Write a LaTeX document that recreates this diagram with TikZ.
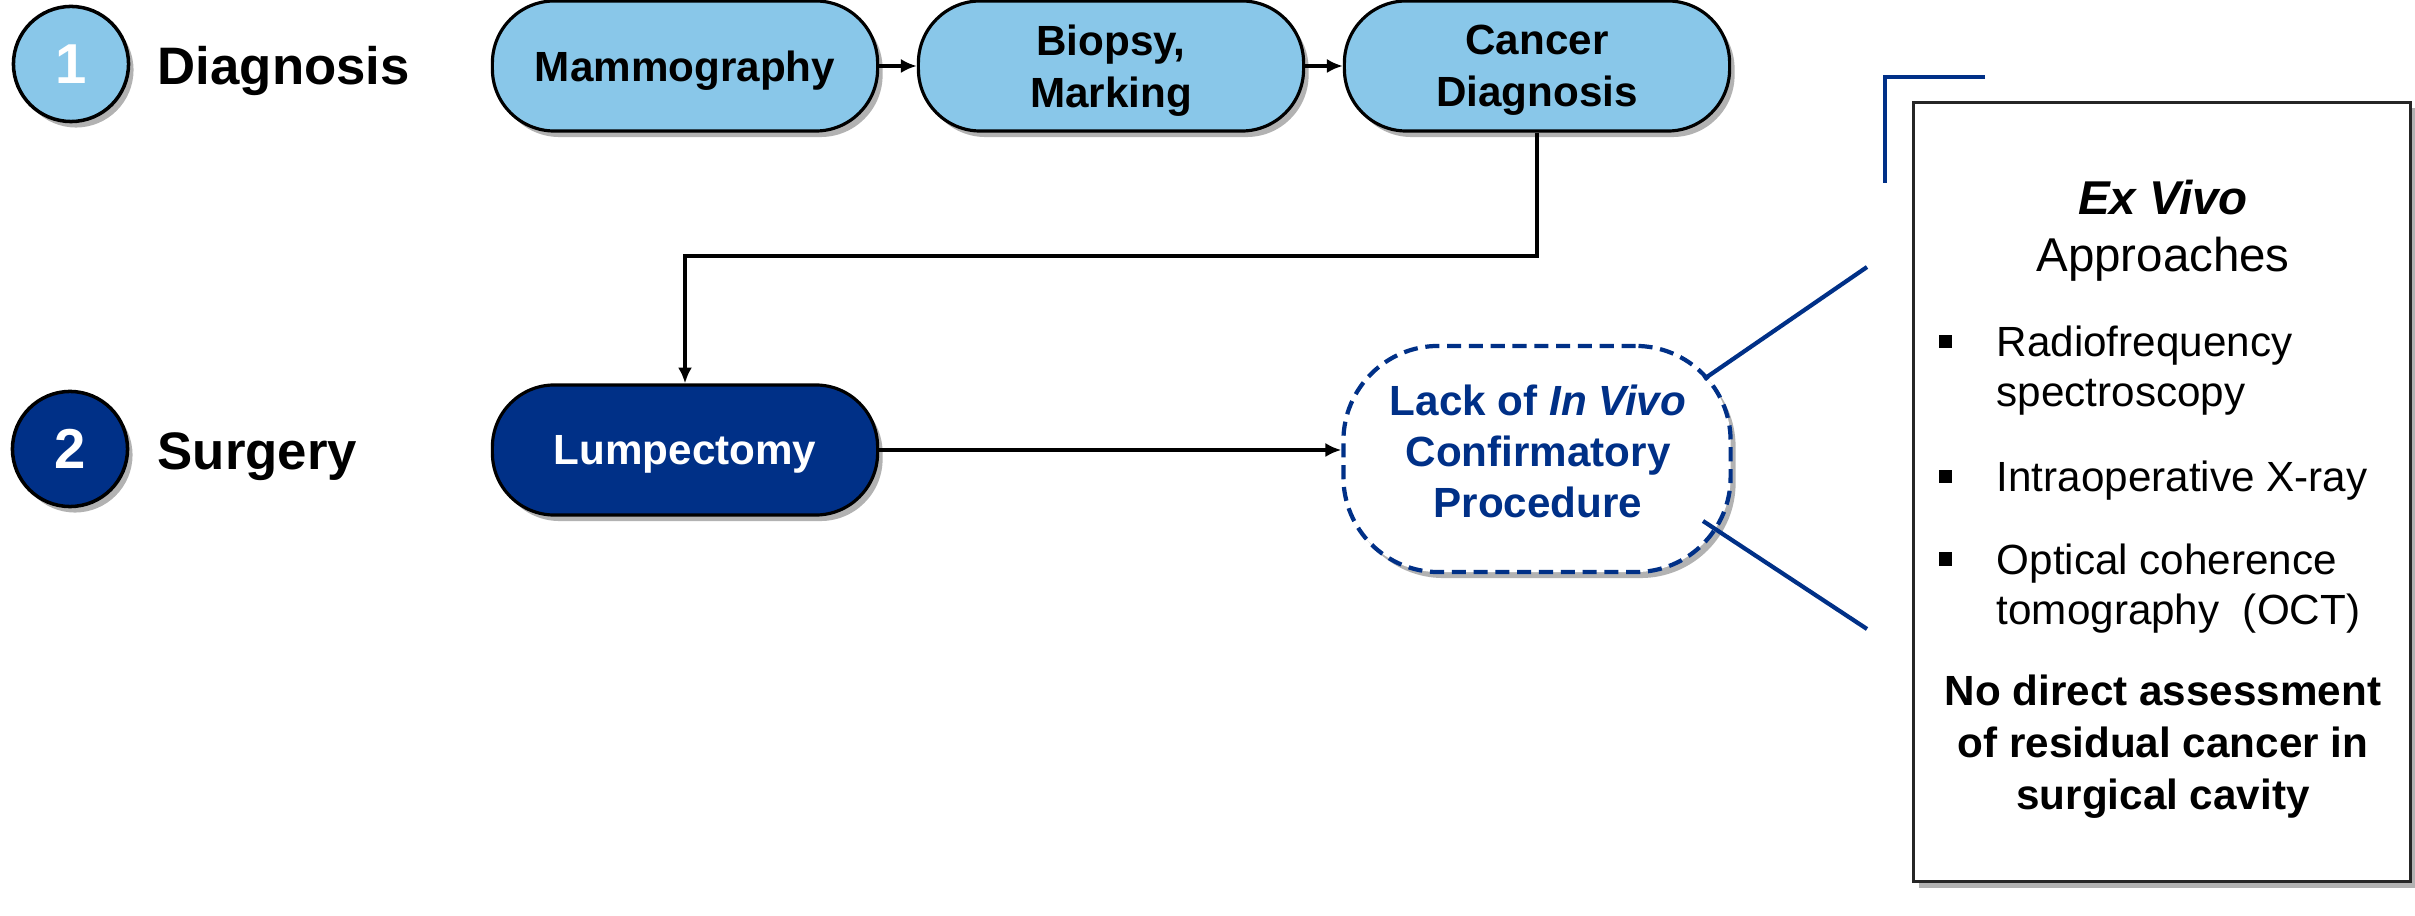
\documentclass[tikz,border=0pt]{standalone}
\usepackage{fontspec}
\setmainfont{Liberation Sans}
\usetikzlibrary{shadows,arrows.meta,calc}
\definecolor{lblue}{RGB}{137,199,233}
\definecolor{dblue}{RGB}{0,48,135}
\begin{document}
\begin{tikzpicture}[x=0.01cm,y=-0.01cm,
  shd/.style={drop shadow={shadow xshift=0.05cm, shadow yshift=-0.06cm, opacity=0.3, fill=black}},
  term/.style={draw=black, line width=0.9pt, rounded corners=0.62cm, minimum width=3.85cm, minimum height=1.30cm, inner sep=0pt, text depth=0pt, align=center, font=\fontsize{12}{14.8}\selectfont\bfseries, shd},
  lterm/.style={term, fill=lblue},
  dterm/.style={term, fill=dblue, text=white},
  numc/.style={circle, draw=black, line width=1pt, minimum size=1.15cm, inner sep=0pt, font=\fontsize{16}{16}\selectfont\bfseries, text=white, shd},
  stage/.style={anchor=base west, inner sep=0pt, font=\fontsize{15}{15}\selectfont\bfseries},
  arr/.style={-{Latex[length=4.5pt,width=4pt]}, line width=0.9pt, black},
  bl/.style={dblue, line width=1.2pt},
  ovl/.style={draw=dblue, line width=1.2pt, dash pattern=on 4pt off 2.2pt, rounded corners=0.95cm, fill=white, minimum width=3.87cm, minimum height=2.26cm, shd},
  itm/.style={anchor=base west, inner sep=0pt, align=left, font=\fontsize{12}{14.3}\selectfont},
  bul/.style={fill=black, minimum size=0.13cm, inner sep=0pt},
]
\useasboundingbox (0,0) rectangle (2415,916);

% stage markers
\node[numc, fill=lblue] (n1) at (71,64) {1};
\node[stage] (t1) at (157,85) {Diagnosis};
\node[numc, fill=dblue] (n2) at (70,449) {2};
\node[stage] (t2) at (157,470) {Surgery};

% row 1
\node[lterm] (mam) at (685,66) {Mammography};
\node[lterm] (bio) at (1111,66) {Biopsy,\\Marking};
\node[lterm] (cd) at (1537,66) {Cancer\\Diagnosis};

% row 2
\node[dterm] (lum) at (685,450) {Lumpectomy};
\node[ovl] (ov) at (1537,459) {};
\node[align=center, text=dblue, inner sep=0pt, font=\fontsize{12}{14.5}\selectfont\bfseries] (ovt) at (1538,451) {Lack of \textit{In Vivo}\\Confirmatory\\Procedure};

% connectors
\draw[arr] (mam) -- (bio);
\draw[arr] (bio) -- (cd);
\coordinate (turn) at (1537,256);
\draw[arr] (cd.south) -- (turn) -| (lum.north);
\draw[arr] (lum.east) -- (lum.east -| ov.west);

% blue lines to box
\coordinate (ou) at (1704,379);
\coordinate (eu) at (1867,267);
\coordinate (ol) at (1703,521);
\coordinate (el) at (1867,629);
\draw[bl] (ou) -- (eu);
\draw[bl] (ol) -- (el);
\coordinate (bra) at (1985,77);
\coordinate (brc) at (1885,77);
\coordinate (brb) at (1885,183);
\draw[bl] (bra) -- (brc) -- (brb);

% ex vivo box
\node[draw=black!85, line width=0.8pt, fill=white, minimum width=4.96cm, minimum height=7.79cm, shd] (exbox) at (2162,492) {};
\node[anchor=base, inner sep=0pt, font=\fontsize{13.5}{13.5}\selectfont\bfseries\itshape] (ex1) at (2163,215) {Ex Vivo};
\node[anchor=base, inner sep=0pt, font=\fontsize{13.5}{13.5}\selectfont] (ex2) at (2163,272) {Approaches};
\node[bul] (b1) at (1945,342) {};
\node[itm] (r1) at (1996,407) {Radiofrequency\\spectroscopy};
\node[bul] (b2) at (1945,477) {};
\node[itm] (r2) at (1996,492) {Intraoperative X-ray};
\node[bul] (b3) at (1945,559) {};
\node[itm] (r3) at (1996,625) {Optical coherence\\tomography\ \ (OCT)};
\node[anchor=base, align=center, inner sep=0pt, font=\fontsize{12}{14.8}\selectfont\bfseries] (nd) at (2163,810) {No direct assessment\\of residual cancer in\\surgical cavity};
\end{tikzpicture}
\end{document}
